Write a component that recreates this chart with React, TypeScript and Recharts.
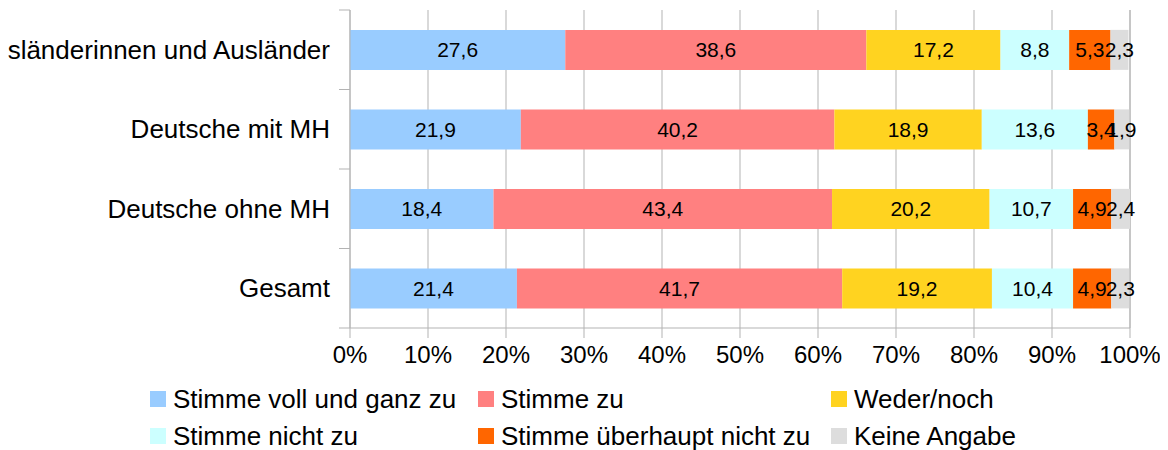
import { BarChart, Bar, XAxis, YAxis, CartesianGrid, Legend, LabelList } from 'recharts';

const categories = ['Ausländerinnen und Ausländer', 'Deutsche mit MH', 'Deutsche ohne MH', 'Gesamt'];
const seriesNames = [
  'Stimme voll und ganz zu',
  'Stimme zu',
  'Weder/noch',
  'Stimme nicht zu',
  'Stimme überhaupt nicht zu',
  'Keine Angabe',
];
const vollUndGanz = [27.6, 21.9, 18.4, 21.4];
const stimmeZu = [38.6, 40.2, 43.4, 41.7];
const wederNoch = [17.2, 18.9, 20.2, 19.2];
const nichtZu = [8.8, 13.6, 10.7, 10.4];
const ueberhauptNicht = [5.3, 3.4, 4.9, 4.9];
const keineAngabe = [2.3, 1.9, 2.4, 2.3];
const xTicks = [0, 10, 20, 30, 40, 50, 60, 70, 80, 90, 100];

const seriesValues = [vollUndGanz, stimmeZu, wederNoch, nichtZu, ueberhauptNicht, keineAngabe];
const colors = ['#99ccff', '#ff8080', '#ffd320', '#ccffff', '#ff6600', '#dddddd'];

const FONT = '"Liberation Sans", Arial, sans-serif';
const GRID = '#b3b3b3';
const LABEL_GAP = 20;

const data = categories.map((name, i) => {
  const row: Record<string, string | number> = { name };
  seriesValues.forEach((vals, s) => {
    row[`s${s}`] = vals[i];
  });
  return row;
});

// category labels plus tick marks between the bands (like the office chart)
function BandTick(props: any) {
  const { x, y, payload, index, visibleTicksCount } = props;
  const half = payload.offset ?? 39.75;
  const axisX = x + LABEL_GAP;
  return (
    <g>
      <line x1={axisX - 11} x2={axisX} y1={y - half} y2={y - half} stroke={GRID} />
      {index === visibleTicksCount - 1 && (
        <line x1={axisX - 11} x2={axisX} y1={y + half} y2={y + half} stroke={GRID} />
      )}
      <text x={x} y={y} textAnchor="end" dominantBaseline="central" fontSize={26} fill="#000" fontFamily={FONT}>
        {payload.value}
      </text>
    </g>
  );
}

const legendCols = [142, 470, 823];
const legendRows = [16, 53];

function LegendBox() {
  return (
    <div style={{ position: 'relative', width: 1160, height: 80, fontFamily: FONT, fontSize: 26, color: '#000' }}>
      {seriesNames.map((name, i) => (
        <div
          key={name}
          style={{
            position: 'absolute',
            left: legendCols[i % 3],
            top: legendRows[Math.floor(i / 3)],
            height: 30,
            display: 'flex',
            alignItems: 'center',
            whiteSpace: 'nowrap',
          }}
        >
          <span style={{ width: 16, height: 16, background: colors[i], marginRight: 7, display: 'inline-block' }} />
          {name}
        </div>
      ))}
    </div>
  );
}

const fmt = (v: any) => String(v).replace('.', ',');

export default function App() {
  return (
    <BarChart
      width={1160}
      height={442}
      data={data}
      layout="vertical"
      margin={{ top: 2, right: 38, left: 0, bottom: 2 }}
      barCategoryGap="25%"
      style={{ fontFamily: FONT }}
    >
      <CartesianGrid horizontal={false} stroke={GRID} />
      <XAxis
        type="number"
        domain={[0, 100]}
        ticks={xTicks}
        tickFormatter={(v) => `${v}%`}
        height={40}
        tickSize={10}
        tickMargin={8}
        stroke={GRID}
        tick={{ fill: '#000', fontSize: 24, fontFamily: FONT }}
      />
      <YAxis
        type="category"
        dataKey="name"
        width={342}
        tickLine={false}
        tickSize={0}
        tickMargin={LABEL_GAP}
        stroke={GRID}
        tick={(p: any) => <BandTick {...p} />}
        interval={0}
      />
      <Legend verticalAlign="bottom" wrapperStyle={{ left: 0, width: 1160 }} content={() => <LegendBox />} />
      {seriesNames.map((name, s) => (
        <Bar key={name} dataKey={`s${s}`} name={name} stackId="a" fill={colors[s]} isAnimationActive={false}>
          <LabelList
            dataKey={`s${s}`}
            position="center"
            formatter={fmt}
            fill="#000"
            fontSize={21}
            fontFamily={FONT}
          />
        </Bar>
      ))}
    </BarChart>
  );
}
